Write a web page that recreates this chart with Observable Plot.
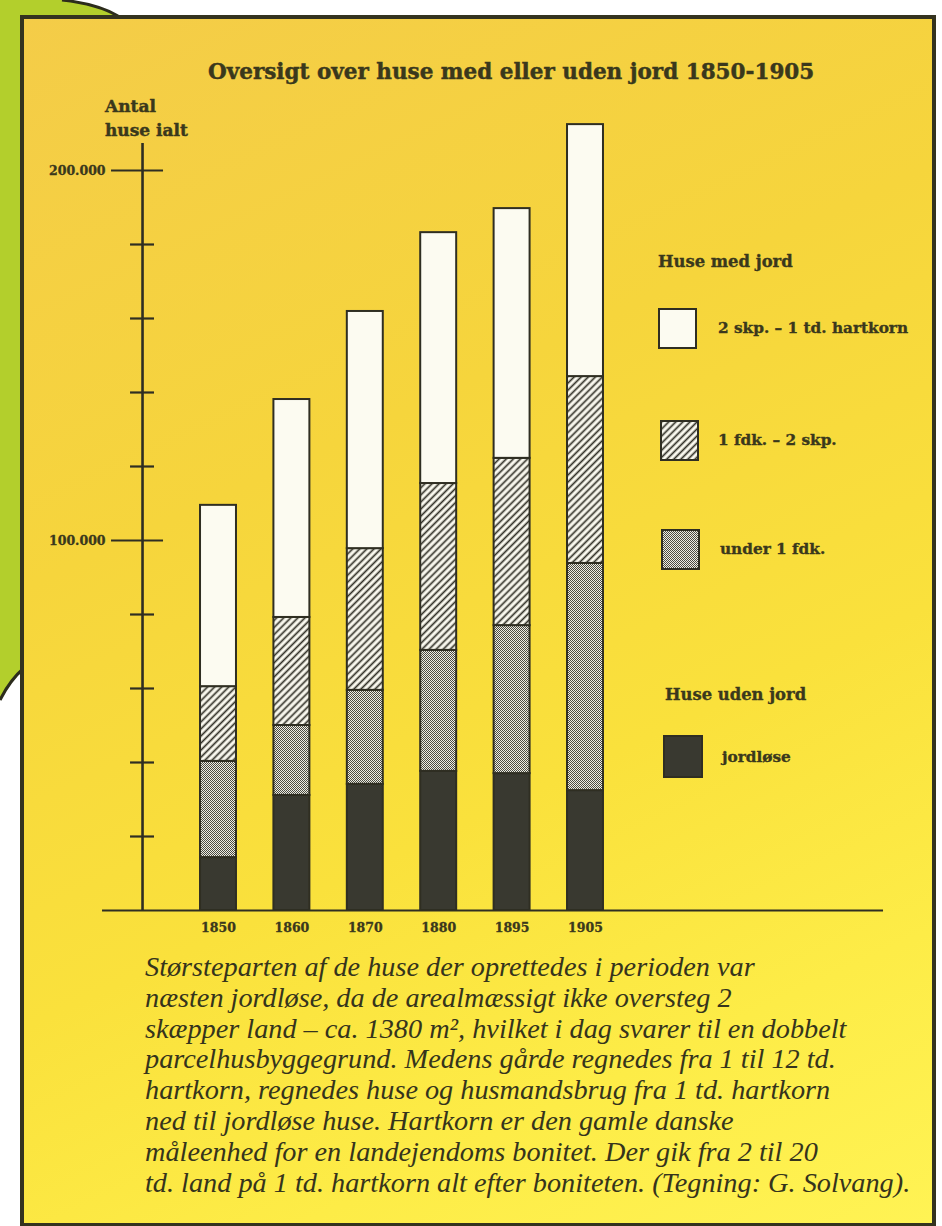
<!DOCTYPE html>
<html>
<head>
<meta charset="utf-8">
<script src="https://cdn.jsdelivr.net/npm/d3@7"></script>
<script src="https://cdn.jsdelivr.net/npm/@observablehq/plot@0.6"></script>
<style>
  html, body { margin: 0; padding: 0; background: #ffffff; }
  #page { position: relative; width: 942px; height: 1226px; overflow: hidden; background: #ffffff; }
  #deco { position: absolute; left: 0; top: 0; }
  #frame { position: absolute; left: 20px; top: 15px; width: 908px; height: 1204px;
    border: 4px solid #34331f;
    background: linear-gradient(155deg, #f4cc48 0%, #f6d53c 35%, #fae13c 62%, #fdec47 82%, #fff354 100%); }
  .bold { -webkit-text-stroke: 0.45px #3a381c; }
  #title { position: absolute; left: 208px; top: 60px; white-space: nowrap;
    font: bold 21.5px "DejaVu Serif", serif; line-height: 24px; color: #3a381c; }
  #ylabel { position: absolute; left: 105px; top: 94px; white-space: nowrap;
    font: bold 17px "DejaVu Serif", serif; line-height: 24px; color: #3a381c; }
  #chart { position: absolute; left: 0; top: 0; }
  .lg { position: absolute; white-space: nowrap; font-family: "DejaVu Serif", serif; font-weight: bold; color: #3a381c;
    -webkit-text-stroke: 0.35px #3a381c; }
  .lg-head { font-size: 16.4px; }
  .lg-label { font-size: 15.3px; }
  #caption { position: absolute; left: 145px; top: 952px; font-family: "Liberation Serif", serif; font-style: italic;
    font-size: 28px; line-height: 30.8px; color: #35341c; }
  #caption span { display: inline-block; white-space: nowrap; }
</style>
</head>
<body>
<svg width="0" height="0" style="position:absolute">
  <defs>
    <pattern id="hatch" patternUnits="userSpaceOnUse" width="5" height="5" patternTransform="rotate(45)">
      <rect width="5" height="5" fill="#fbfaf0"></rect>
      <line x1="2.5" y1="0" x2="2.5" y2="5" stroke="#2f2e25" stroke-width="1.7"></line>
    </pattern>
    <pattern id="dots" patternUnits="userSpaceOnUse" width="2" height="2">
      <rect width="2" height="2" fill="#eeede4"></rect>
      <rect width="1" height="1" fill="#4c4c42"></rect>
      <rect x="1" y="1" width="1" height="1" fill="#4c4c42"></rect>
    </pattern>
  </defs>
</svg>
<div id="page">
  <svg id="deco" width="942" height="1226">
    <path d="M0,0 L62,0 Q98,4 118,16 L24,16 L24,668 Q10,680 0,700 Z" fill="#b3cf2c"></path>
    <path d="M62,0 Q98,4 118,16" fill="none" stroke="#2c2c1c" stroke-width="3"></path>
    <path d="M24,668 Q10,680 0,700" fill="none" stroke="#2c2c1c" stroke-width="3"></path>
  </svg>
  <div id="frame"></div>
  <div id="title" class="bold">Oversigt over huse med eller uden jord 1850-1905</div>
  <div id="ylabel" class="bold">Antal<br>huse ialt</div>
  <div id="chart"></div>
  <div id="legend"></div>
  <div id="caption"></div>
</div>
<script>
// ---------- data ----------
const years = ["1850", "1860", "1870", "1880", "1895", "1905"];
const jordlose    = [14300, 31100, 34100, 37600, 37000, 32400];
const under1fdk   = [26000, 18900, 25400, 32700, 40000, 61400];
const fdk1til2skp = [20200, 29200, 38300, 45100, 45200, 50500];
const skp2til1td  = [49000, 58900, 64100, 67800, 67500, 68100];
const seriesNames = ["jordløse", "under 1 fdk.", "1 fdk. – 2 skp.", "2 skp. – 1 td. hartkorn"];
const seriesFills = ["#393930", "url(#dots)", "url(#hatch)", "#fcfbf1"];
const yTicks = [20000, 40000, 60000, 80000, 100000, 120000, 140000, 160000, 180000, 200000];
const yLabelTicks = [100000, 200000];
const legendGroups = ["Huse med jord", "Huse uden jord"];
const captionLines = [
  "Størsteparten af de huse der oprettedes i perioden var",
  "næsten jordløse, da de arealmæssigt ikke oversteg 2",
  "skæpper land – ca. 1380 m², hvilket i dag svarer til en dobbelt",
  "parcelhusbyggegrund. Medens gårde regnedes fra 1 til 12 td.",
  "hartkorn, regnedes huse og husmandsbrug fra 1 td. hartkorn",
  "ned til jordløse huse. Hartkorn er den gamle danske",
  "måleenhed for en landejendoms bonitet. Der gik fra 2 til 20",
  "td. land på 1 td. hartkorn alt efter boniteten. (Tegning: G. Solvang)."
];

// ---------- stacked table ----------
const seriesValues = [jordlose, under1fdk, fdk1til2skp, skp2til1td];
const rows = [];
years.forEach((year, i) => {
  let base = 0;
  seriesValues.forEach((vals, s) => {
    rows.push({i, year, series: seriesNames[s], y1: base, y2: base + vals[i]});
    base += vals[i];
  });
});

const ink = "#2f2e22";
const halfBar = 0.245;      // half bar width, in slot units
const axisAt = -1.035;      // position of the value axis, in slot units
const axisTop = 207300;
const fmt = d => d3.format(",")(d).replace(/,/g, ".");

const chart = Plot.plot({
  width: 942,
  height: 950,
  style: {background: "transparent", fontFamily: "DejaVu Serif, serif", color: ink, overflow: "visible"},
  x: {type: "linear", domain: [0, years.length - 1], range: [218, 585], axis: null},
  y: {domain: [0, 200000], range: [910, 170], axis: null},
  marks: [
    ...seriesNames.map((name, s) =>
      Plot.rectY(rows.filter(r => r.series === name), {
        x1: d => d.i - halfBar, x2: d => d.i + halfBar, y1: "y1", y2: "y2",
        fill: seriesFills[s], stroke: ink, strokeWidth: 2
      })
    ),
    // baseline
    Plot.ruleY([0], {x1: axisAt, x2: axisAt, insetLeft: -40, insetRight: -741, stroke: ink, strokeWidth: 2}),
    // vertical axis
    Plot.ruleX([axisAt], {y1: 0, y2: axisTop, stroke: ink, strokeWidth: 2.6}),
    // minor ticks (crossing)
    Plot.ruleY(yTicks.filter(t => !yLabelTicks.includes(t)), {y: d => d, x1: axisAt, x2: axisAt, insetLeft: -12, insetRight: -12, stroke: ink, strokeWidth: 2.2}),
    // major ticks
    Plot.ruleY(yLabelTicks, {y: d => d, x1: axisAt, x2: axisAt, insetLeft: -31, insetRight: -21, stroke: ink, strokeWidth: 2.2}),
    Plot.text(yLabelTicks, {x: axisAt, y: d => d, text: fmt, dx: -37, textAnchor: "end", fontSize: 12.5, fontWeight: "bold", fill: "#3a381c", stroke: "#3a381c", strokeWidth: 0.3}),
    // year labels
    Plot.text(years, {x: (d, i) => i, y: 0, text: d => d, dy: 17, fontSize: 12.5, fontWeight: "bold", fill: "#3a381c", stroke: "#3a381c", strokeWidth: 0.3})
  ]
});
document.getElementById("chart").appendChild(chart);

// ---------- legend ----------
const legend = document.getElementById("legend");
function addText(cls, txt, left, cy) {
  const d = document.createElement("div");
  d.className = "lg " + cls;
  d.textContent = txt;
  d.style.left = left + "px";
  d.style.top = (cy - 12) + "px";
  d.style.lineHeight = "24px";
  legend.appendChild(d);
}
function addSwatch(fill, left, top, w, h) {
  const ns = "http://www.w3.org/2000/svg";
  const svg = document.createElementNS(ns, "svg");
  svg.setAttribute("width", w); svg.setAttribute("height", h);
  svg.style.position = "absolute"; svg.style.left = left + "px"; svg.style.top = top + "px";
  const r = document.createElementNS(ns, "rect");
  r.setAttribute("x", 1); r.setAttribute("y", 1); r.setAttribute("width", w - 2); r.setAttribute("height", h - 2);
  r.setAttribute("fill", fill); r.setAttribute("stroke", ink); r.setAttribute("stroke-width", 2);
  svg.appendChild(r);
  legend.appendChild(svg);
}
addText("lg-head", legendGroups[0], 658, 262);
const legendItems = [
  {s: 3, sw: [658, 308, 39, 41], tx: [718, 328]},
  {s: 2, sw: [660, 420, 39, 41], tx: [718, 440]},
  {s: 1, sw: [661, 529, 39, 41], tx: [720, 549]}
];
legendItems.forEach(it => {
  addSwatch(seriesFills[it.s], ...it.sw);
  addText("lg-label", seriesNames[it.s], it.tx[0], it.tx[1]);
});
addText("lg-head", legendGroups[1], 665, 695);
addSwatch(seriesFills[0], 663, 735, 40, 43);
addText("lg-label", seriesNames[0], 722, 757);

// ---------- caption ----------
const cap = document.getElementById("caption");
const spans = captionLines.map((line, k) => {
  const sp = document.createElement("span");
  sp.textContent = line;
  cap.appendChild(sp);
  if (k < captionLines.length - 1) cap.appendChild(document.createElement("br"));
  return sp;
});
// fit the first line to the printed width
const w0 = spans[0].getBoundingClientRect().width;
if (w0 > 0) cap.style.fontSize = (28 * 610 / w0).toFixed(2) + "px";
</script>
</body>
</html>
